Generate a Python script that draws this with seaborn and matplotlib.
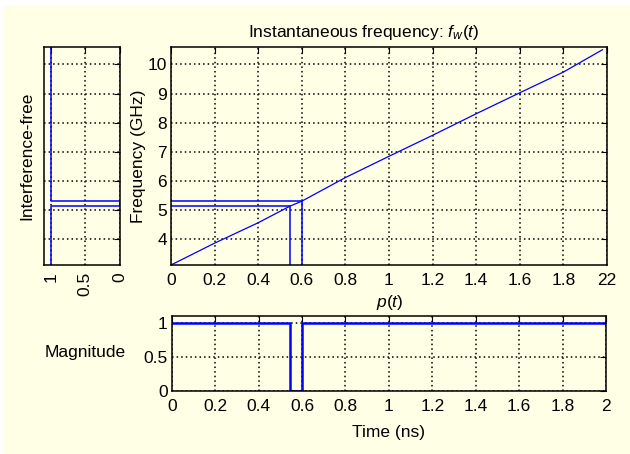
import numpy as np
import pandas as pd
import seaborn as sns
import matplotlib.pyplot as plt
from matplotlib.patches import Rectangle

# instantaneous frequency curve f_w(t)
P_VALS = [0, 0.2, 0.4, 0.546, 0.60, 0.8, 1.0, 1.2, 1.4, 1.6, 1.8, 1.98]
FREQ_VALS = [3.12, 3.87, 4.57, 5.14, 5.31, 6.12, 6.85, 7.57, 8.31, 9.03, 9.74, 10.51]

# interference band edges
MARK_P = [0.546, 0.60]
MARK_F = [5.14, 5.31]

# interference-free mask vs frequency (left panel)
MASK_VAL = [1, 1, 0, 0, 1, 1]
MASK_FREQ = [3.12, 5.14, 5.14, 5.31, 5.31, 10.6]

# magnitude vs time (bottom panel)
TIME_VALS = [0, 0.545, 0.545, 0.598, 0.598, 2.0]
MAG_VALS = [1, 1, 0, 0, 1, 1]

X_TICKS = [0, 0.2, 0.4, 0.6, 0.8, 1.0, 1.2, 1.4, 1.6, 1.8, 2.0]
X_LABELS_MAIN = ['0', '0.2', '0.4', '0.6', '0.8', '1', '1.2', '1.4', '1.6', '1.8', '22']
X_LABELS_TIME = ['0', '0.2', '0.4', '0.6', '0.8', '1', '1.2', '1.4', '1.6', '1.8', '2']
F_TICKS = [4, 5, 6, 7, 8, 9, 10]

BG = '#ffffe5'
W, H = 630, 454

sns.set_theme(style='white')
plt.rcParams['font.family'] = ['Liberation Sans', 'DejaVu Sans']
plt.rcParams['mathtext.fontset'] = 'custom'
plt.rcParams['mathtext.rm'] = 'Liberation Sans'
plt.rcParams['mathtext.it'] = 'Liberation Sans:italic'
plt.rcParams['axes.facecolor'] = BG
plt.rcParams['axes.edgecolor'] = 'black'
plt.rcParams['axes.linewidth'] = 1.1
plt.rcParams['text.color'] = 'black'
plt.rcParams['xtick.color'] = 'black'
plt.rcParams['ytick.color'] = 'black'

FS = 12.5


def fx(px):
    return px / W


def fy(py):
    return 1 - py / H


def style_axes(ax):
    ax.grid(True, color='black', linestyle=(0, (1, 2)), linewidth=1.1)
    ax.tick_params(direction='in', top=True, right=True, length=4, width=0.8,
                   labelsize=FS, pad=4)
    for s in ax.spines.values():
        s.set_visible(True)
        s.set_color('black')


fig = plt.figure(figsize=(6.3, 4.54), dpi=100, facecolor='white')
fig.add_artist(Rectangle((fx(3), 0), 1, fy(5), transform=fig.transFigure,
                         facecolor=BG, edgecolor='none', zorder=-10))

# main panel
ax = fig.add_axes([fx(171), fy(265), fx(607 - 171), (265 - 47) / H])
sns.lineplot(x=P_VALS, y=FREQ_VALS, ax=ax, color='blue', linewidth=0.9,
             sort=False, estimator=None)
for p, f in zip(MARK_P, MARK_F):
    ax.plot([0, p], [f, f], color='blue', linewidth=1.1)
    ax.plot([p, p], [3.12, f], color='blue', linewidth=1.1)
ax.set_xlim(0, 2)
ax.set_ylim(3.12, 10.6)
ax.set_xticks(X_TICKS)
ax.set_xticklabels(X_LABELS_MAIN)
ax.set_yticks(F_TICKS)
style_axes(ax)
ax.tick_params(axis='y', pad=3)
ax.tick_params(axis='x', pad=6)

# left panel
axl = fig.add_axes([fx(43.7), fy(265), fx(120 - 43.7), (265 - 47) / H])
sns.lineplot(x=MASK_VAL, y=MASK_FREQ, ax=axl, color='blue', linewidth=1.1,
             sort=False, estimator=None)
axl.set_xlim(1.1, 0)
axl.set_ylim(3.12, 10.6)
axl.set_xticks([1, 0.5, 0])
axl.set_xticklabels(['1', '0.5', '0'], rotation=90, va='top')
axl.set_yticks(F_TICKS)
axl.set_yticklabels([])
style_axes(axl)
axl.tick_params(axis='x', pad=5)

# bottom panel
axb = fig.add_axes([fx(171.7), fy(390.7), fx(606 - 171.7), (390.7 - 316) / H])
sns.lineplot(x=TIME_VALS, y=MAG_VALS, ax=axb, color='blue', linewidth=1.8,
             sort=False, estimator=None)
axb.set_xlim(0, 2)
axb.set_ylim(0, 1.1)
axb.set_xticks(X_TICKS)
axb.set_xticklabels(X_LABELS_TIME)
axb.set_yticks([0, 0.5, 1])
axb.set_yticklabels(['0', '0.5', '1'])
style_axes(axb)
axb.tick_params(axis='y', pad=3)
axb.tick_params(axis='x', pad=6)

# texts
fig.text(fx(364), fy(32), 'Instantaneous frequency: $f_w(t)$', fontsize=FS,
         ha='center', va='center')
fig.text(fx(390), fy(303), '$p(t)$', fontsize=FS, ha='center', va='center')
fig.text(fx(388), fy(433), 'Time (ns)', fontsize=FS, ha='center', va='center')
fig.text(fx(138), fy(156), 'Frequency (GHz)', fontsize=FS, rotation=90,
         ha='center', va='center')
fig.text(fx(27), fy(156), 'Interference-free', fontsize=FS, rotation=90,
         ha='center', va='center')
fig.text(fx(126), fy(353), 'Magnitude', fontsize=FS, ha='right', va='center')

fig.savefig('out.png', dpi=100, facecolor=fig.get_facecolor())
